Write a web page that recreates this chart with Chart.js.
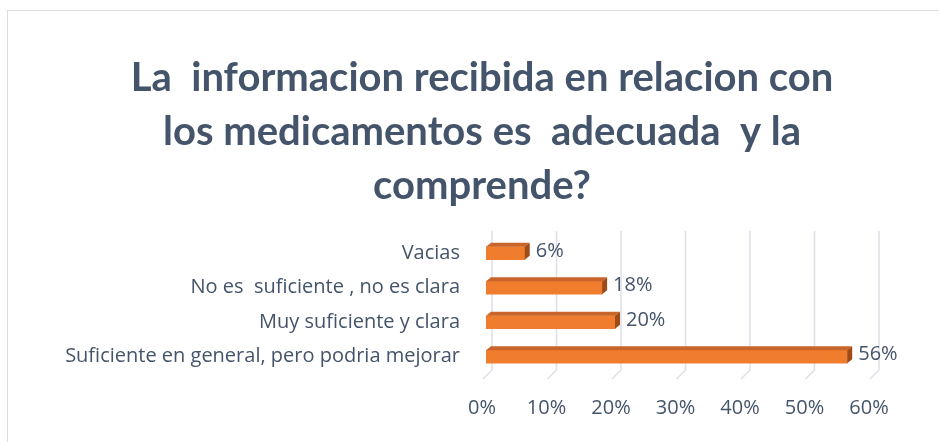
<!DOCTYPE html>
<html>
<head>
<meta charset="utf-8">
<script src="https://cdn.jsdelivr.net/npm/chart.js@4.4.0/dist/chart.umd.min.js"></script>
<style>
  body { margin: 0; background: #fff; overflow: hidden; }
  #frame { position: absolute; left: 7px; top: 10px; width: 1000px; height: 500px; border: 1px solid #d9dce3; }
  #wrap { position: absolute; left: 0; top: 0; width: 939px; height: 442px; }
</style>
</head>
<body>
<div id="frame"></div>
<div id="wrap"><canvas id="encuesta"></canvas></div>
<script>
const categorias = ['Vacias', 'No es  suficiente , no es clara', 'Muy suficiente y clara', 'Suficiente en general, pero podria mejorar'];
const porcentajes = [6, 18, 20, 56];
const ticksX = ['0%', '10%', '20%', '30%', '40%', '50%', '60%'];

const texto = '#44546a';
const depthX = 5, depthY = 4;

// back wall grid + 3d floor diagonal
const grid3d = {
    id: 'grid3d',
    beforeDatasetsDraw(chart) {
        const ctx = chart.ctx;
        const x = chart.scales.x;
        const area = chart.chartArea;
        ctx.save();
        ctx.strokeStyle = '#dde0e6';
        ctx.lineWidth = 1.5;
        for (let v = 0; v <= 60; v += 10) {
            const px = x.getPixelForValue(v);
            ctx.beginPath();
            ctx.moveTo(px + 6, area.top - 5);
            ctx.lineTo(px + 6, area.bottom - 4);
            ctx.lineTo(px - 3, area.bottom + 5);
            ctx.stroke();
        }
        ctx.restore();
    }
};

// top and end faces of the bars, plus value labels
const bar3d = {
    id: 'bar3d',
    afterDatasetsDraw(chart) {
        const ctx = chart.ctx;
        const meta = chart.getDatasetMeta(0);
        ctx.save();
        meta.data.forEach((bar, i) => {
            const top = bar.y - bar.height / 2;
            const bot = bar.y + bar.height / 2;
            const l = bar.base, r = bar.x;
            ctx.fillStyle = '#c9642a';
            ctx.beginPath();
            ctx.moveTo(l, top);
            ctx.lineTo(l + depthX, top - depthY);
            ctx.lineTo(r + depthX, top - depthY);
            ctx.lineTo(r, top);
            ctx.closePath();
            ctx.fill();
            ctx.fillStyle = '#9e4b17';
            ctx.beginPath();
            ctx.moveTo(r, top);
            ctx.lineTo(r + depthX, top - depthY);
            ctx.lineTo(r + depthX, bot - depthY);
            ctx.lineTo(r, bot);
            ctx.closePath();
            ctx.fill();

            ctx.fillStyle = texto;
            ctx.font = '20px "Open Sans"';
            ctx.textBaseline = 'middle';
            ctx.textAlign = 'left';
            ctx.fillText(porcentajes[i] + '%', r + 11, bar.y - 2);
        });
        ctx.restore();
    }
};

const ctx = document.getElementById('encuesta').getContext('2d');
const chart = new Chart(ctx, {
    type: 'bar',
    data: {
        labels: categorias,
        datasets: [{
            data: porcentajes,
            backgroundColor: function(c) {
                const bar = c.element;
                if (!bar || bar.y === undefined || isNaN(bar.y)) return '#f07d2e';
                const g = c.chart.ctx.createLinearGradient(0, bar.y - 7, 0, bar.y + 7);
                g.addColorStop(0, '#ef7a2c');
                g.addColorStop(0.35, '#f7924a');
                g.addColorStop(1, '#e86f22');
                return g;
            },
            borderWidth: 0,
            barThickness: 13
        }]
    },
    options: {
        indexAxis: 'y',
        responsive: true,
        maintainAspectRatio: false,
        animation: false,
        layout: { padding: { left: 25, right: 0, top: 0, bottom: 0 } },
        plugins: {
            legend: { display: false },
            tooltip: { enabled: false },
            title: {
                display: true,
                text: ['La  informacion recibida en relacion con', 'los medicamentos es  adecuada  y la', 'comprende?'],
                color: texto,
                font: { family: 'Lato', size: 40, weight: 'bold', lineHeight: 1.35 },
                padding: { top: 51, bottom: 23 }
            }
        },
        scales: {
            x: {
                min: 0,
                max: 60,
                grid: { display: false, drawTicks: false },
                border: { display: false },
                ticks: {
                    stepSize: 10,
                    padding: 22,
                    labelOffset: -4,
                    color: texto,
                    font: { family: 'Open Sans', size: 20 },
                    callback: (v, i) => ticksX[i]
                }
            },
            y: {
                grid: { display: false, drawTicks: false },
                border: { display: false },
                afterFit: s => { s.width = 486 - 25; },
                ticks: {
                    padding: 26,
                    color: texto,
                    font: { family: 'Open Sans', size: 20 }
                }
            },
            margen: {
                type: 'category',
                position: 'right',
                grid: { display: false, drawTicks: false },
                border: { display: false },
                ticks: { display: false },
                afterFit: s => { s.width = 66; }
            }
        }
    },
    plugins: [grid3d, bar3d]
});
</script>
</body>
</html>
